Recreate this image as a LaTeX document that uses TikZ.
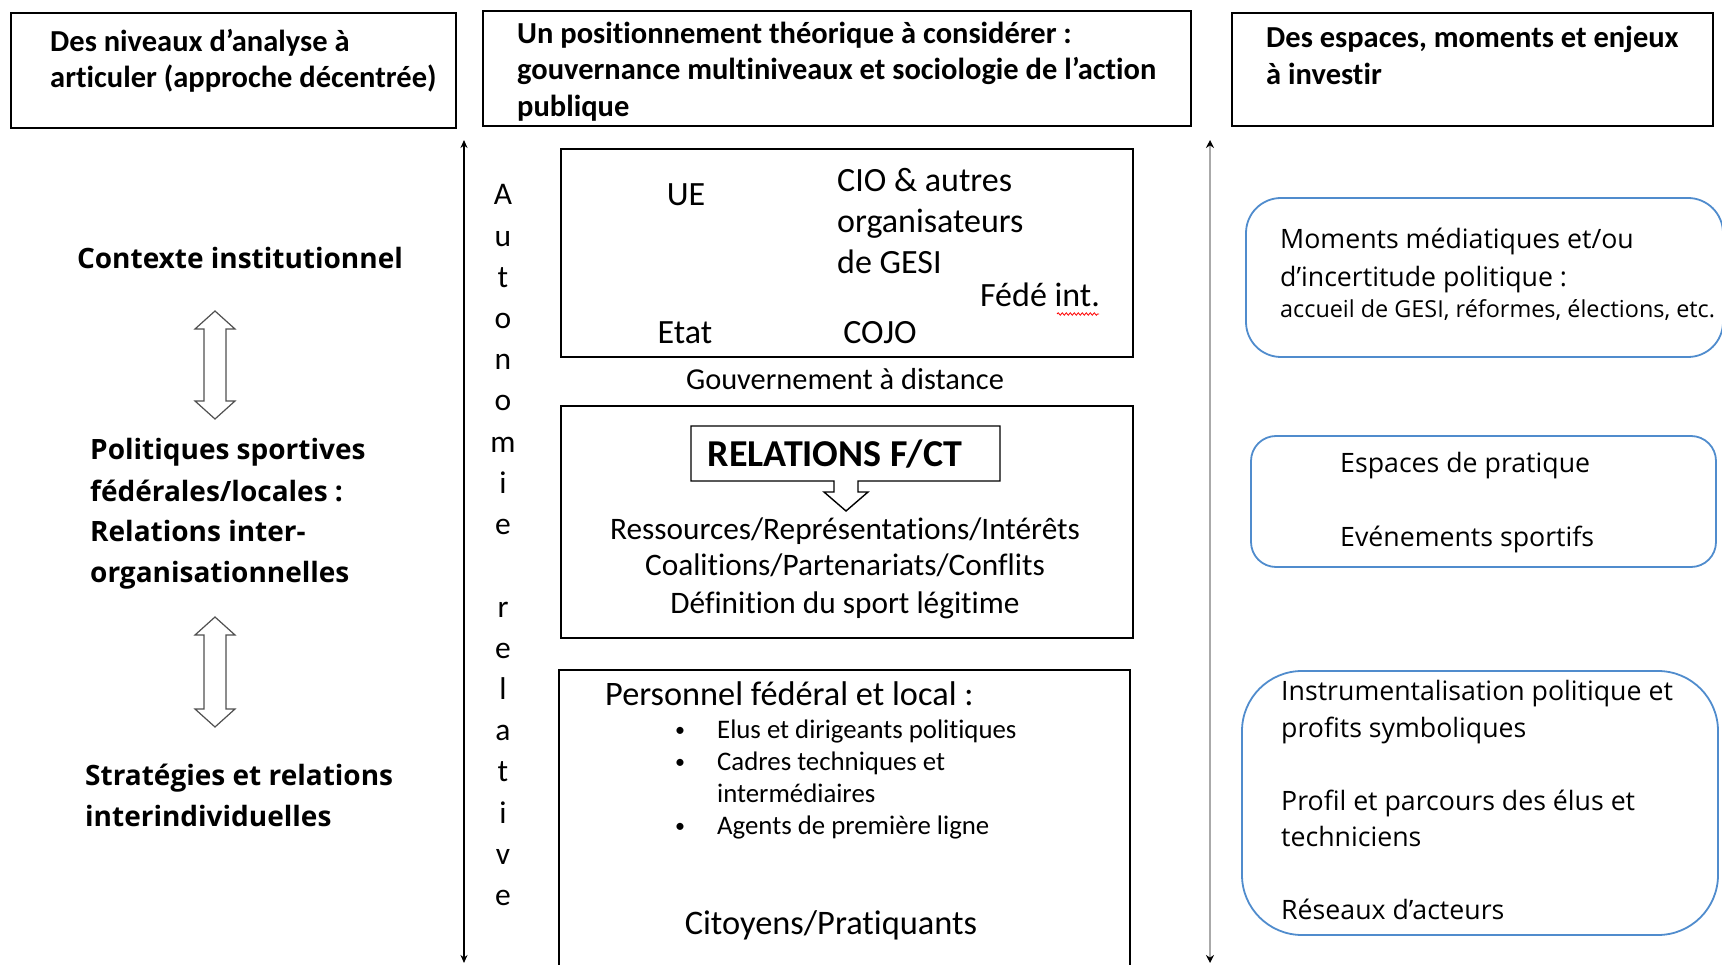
\documentclass[tikz,border=0pt]{standalone}
\usepackage{fontspec}
\setmainfont[Ligatures=NoCommon]{Carlito}
\newfontfamily\osans{Open Sans}
\usetikzlibrary{arrows.meta,decorations.pathmorphing}
\newcommand{\setfs}[1]{\fontsize{#1}{#1}\selectfont}
\definecolor{rblue}{RGB}{80,140,205}
\definecolor{axgray}{RGB}{170,170,170}
\definecolor{dgray}{RGB}{80,80,80}
\begin{document}
\begin{tikzpicture}[x=1pt,y=-1pt,
  box/.style={draw=black,line width=1.4pt},
  rbox/.style={draw=rblue,line width=1.8pt},
  tl/.style={inner sep=0pt,anchor=base west,yshift=-2pt},
  tc/.style={inner sep=0pt,anchor=base,yshift=-2pt},
  hdr/.style={tl,font=\setfs{30.5}\bfseries},
  lft/.style={tl,font=\osans\setfs{28}\bfseries},
  mid/.style={tl,font=\setfs{34}},
  midc/.style={tc,font=\setfs{34}},
  rgt/.style={tl,font=\osans\setfs{26.7}},
  dbl/.style={draw=dgray,line width=1.2pt,fill=white,line join=miter}]
\useasboundingbox (0,0) rectangle (1722,965);
\clip (0,0) rectangle (1722,965);

% header boxes
\draw[box] (11,13) rectangle (456,128);
\draw[box] (483,11) rectangle (1191,126);
\draw[box] (1232,13) rectangle (1713,126);
\node[hdr] (h1a) at (50,50) {Des niveaux d’analyse à};
\node[hdr] (h1b) at (50,86) {articuler (approche décentrée)};
\node[hdr] (h2a) at (517,42) {Un positionnement théorique à considérer :};
\node[hdr] (h2b) at (517,78) {gouvernance multiniveaux et sociologie de l’action};
\node[hdr] (h2c) at (517,115) {publique};
\node[hdr] (h3a) at (1266,46) {Des espaces, moments et enjeux};
\node[hdr] (h3b) at (1266,83) {à investir};

% left column
\node[tc,font=\osans\setfs{28}\bfseries] (ctx) at (240,267) {Contexte institutionnel};
\draw[dbl] (215,311) -- (235,329) -- (226,329) -- (226,401) -- (235,401) -- (215,419)
  -- (195,401) -- (204,401) -- (204,329) -- (195,329) -- cycle;
\node[lft] (pa) at (90,458) {Politiques sportives};
\node[lft] (pb) at (90,499) {fédérales/locales :};
\node[lft] (pc) at (90,539) {Relations inter-};
\node[lft] (pd) at (90,580) {organisationnelles};
\draw[dbl] (215,617) -- (235,635) -- (226,635) -- (226,709) -- (235,709) -- (215,727)
  -- (195,709) -- (204,709) -- (204,635) -- (195,635) -- cycle;
\node[lft] (sa) at (85,783) {Stratégies et relations};
\node[lft] (sb) at (85,824) {interindividuelles};

% axes
\coordinate (a1t) at (464,140);
\coordinate (a1b) at (464,963);
\draw[line width=1.3pt,{Stealth[length=8pt,width=7pt]}-{Stealth[length=8pt,width=7pt]}] (a1t) -- (a1b);
\coordinate (a2t) at (1210,140);
\coordinate (a2b) at (1210,963);
\draw[axgray,line width=2.6pt,{Stealth[length=8pt,width=8pt,color=black]}-{Stealth[length=8pt,width=8pt,color=black]}] (a2t) -- (a2b);

\foreach \l/\k in {A/0,u/1,t/2,o/3,n/4,o/5,m/6,i/7,e/8,r/10,e/11,l/12,a/13,t/14,i/15,v/16,e/17}{
  \node[tc,font=\setfs{31.5}] (L\k) at (503,{194+41.2*\k+9}) {\l};
}

% middle box A
\draw[box] (561,149) rectangle (1133,357);
\node[midc] (ue) at (686,204) {UE};
\node[mid] (cioa) at (837,190) {CIO \& autres};
\node[mid] (ciob) at (837,231) {organisateurs};
\node[mid] (cioc) at (837,272) {de GESI};
\node[midc] (fede) at (1040,305) {Fédé int.};
\draw[red,line width=0.8pt,decorate,decoration={snake,amplitude=1.2pt,segment length=4pt}] (1057,314) -- (1099,314);
\node[midc] (etat) at (685,342) {Etat};
\node[midc] (cojo) at (880,342) {COJO};
\node[tc,font=\setfs{30.4}] (gov) at (845,388) {Gouvernement à distance};

% middle box B
\draw[box] (561,406) rectangle (1133,638);
\draw[line width=1.4pt,line join=miter,fill=white] (691,426) -- (1000,426) -- (1000,481) -- (858,481) -- (858,492)
  -- (868,492) -- (846,511) -- (824,492) -- (834,492) -- (834,481) -- (691,481) -- cycle;
\node[tc,font=\setfs{38}\bfseries] (rel) at (835,465) {RELATIONS F/CT};
\node[tc,font=\setfs{31.3}] (ra) at (845,537) {Ressources/Représentations/Intérêts};
\node[tc,font=\setfs{31.3}] (rb) at (845,573) {Coalitions/Partenariats/Conflits};
\node[tc,font=\setfs{31.3}] (rc) at (845,611) {Définition du sport légitime};

% middle box C
\draw[box] (559,670) rectangle (1130,1000);
\node[tl,font=\setfs{34.3}] (pers) at (605,703) {Personnel fédéral et local :};
\foreach \y/\t/\n in {736/{Elus et dirigeants politiques}/1,768/{Cadres techniques et}/2,800/{intermédiaires}/3,832/{Agents de première ligne}/4}{
  \node[tl,font=\setfs{26.8}] (it\n) at (717,\y) {\t};
}
\foreach \y/\n in {736/1,768/2,832/4}{
  \node[tc,font=\setfs{20}] (bu\n) at (680,{\y-2}) {•};
}
\node[tc,font=\setfs{34.4}] (cit) at (831,932) {Citoyens/Pratiquants};

% right column
\draw[rbox,rounded corners=35pt] (1246,198) rectangle (1723,357);
\node[rgt] (ma) at (1280,247) {Moments médiatiques et/ou};
\node[rgt] (mb) at (1280,285) {d’incertitude politique :};
\node[tl,font=\osans\setfs{23.4}] (mc) at (1280,316) {accueil de GESI, réformes, élections, etc.};
\draw[rbox,rounded corners=25pt] (1251,436) rectangle (1716,567);
\node[rgt] (ea) at (1340,470) {Espaces de pratique};
\node[rgt] (eb) at (1340,544) {Evénements sportifs};
\draw[rbox,rounded corners=60pt] (1242,671) rectangle (1718,935);
\node[rgt] (ia) at (1281,698) {Instrumentalisation politique et};
\node[rgt] (ib) at (1281,735) {profits symboliques};
\node[rgt] (ic) at (1281,808) {Profil et parcours des élus et};
\node[rgt] (id) at (1281,844) {techniciens};
\node[rgt] (ie) at (1281,917) {Réseaux d’acteurs};
\end{tikzpicture}
\end{document}
